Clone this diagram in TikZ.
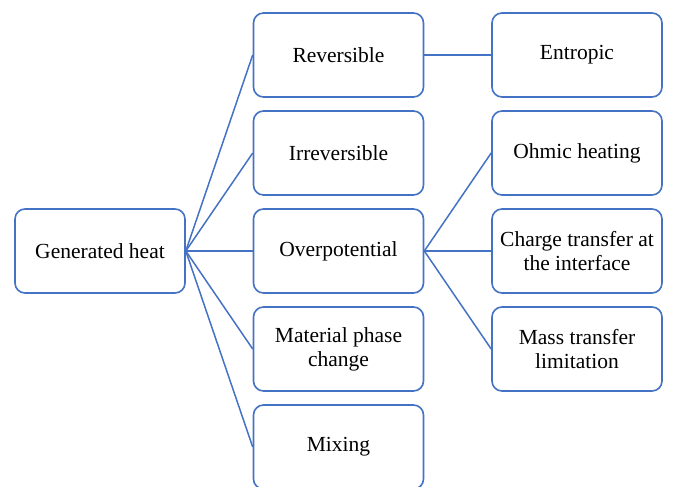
\documentclass[tikz,border=0pt]{standalone}
\usepackage{fontspec}
\setmainfont{Liberation Serif}
\definecolor{boxblue}{HTML}{4472C4}
\tikzset{
  box/.style={draw=boxblue, line width=1.6pt, rounded corners=10pt, fill=white,
    minimum width=170pt, minimum height=84pt, inner sep=2pt, align=center,
    font=\fontsize{21.5pt}{24pt}\selectfont, text=black},
  link/.style={draw=boxblue, line width=1.5pt}
}
\begin{document}
\begin{tikzpicture}[x=1pt,y=-1pt]
\useasboundingbox (0,0) rectangle (673,487);
\clip (0,0) rectangle (673,487);
\node[box] (gen) at (100,251) {Generated heat};
\node[box] (rev) at (338.5,55) {Reversible};
\node[box] (irr) at (338.5,153) {Irreversible};
\node[box] (ovp) at (338.5,251) {Overpotential};
\node[box] (mat) at (338.5,349) {Material phase\\change};
\node[box] (mix) at (338.5,447) {Mixing};
\node[box] (ent) at (577,55) {Entropic};
\node[box] (ohm) at (577,153) {Ohmic heating};
\node[box] (cha) at (577,251) {Charge transfer at\\the interface};
\node[box] (mas) at (577,349) {Mass transfer\\limitation};
\foreach \t in {rev,irr,ovp,mat,mix}{
  \draw[link] (gen.east) -- (\t.west);
}
\draw[link] (rev.east) -- (ent.west);
\foreach \t in {ohm,cha,mas}{
  \draw[link] (ovp.east) -- (\t.west);
}
\end{tikzpicture}
\end{document}
